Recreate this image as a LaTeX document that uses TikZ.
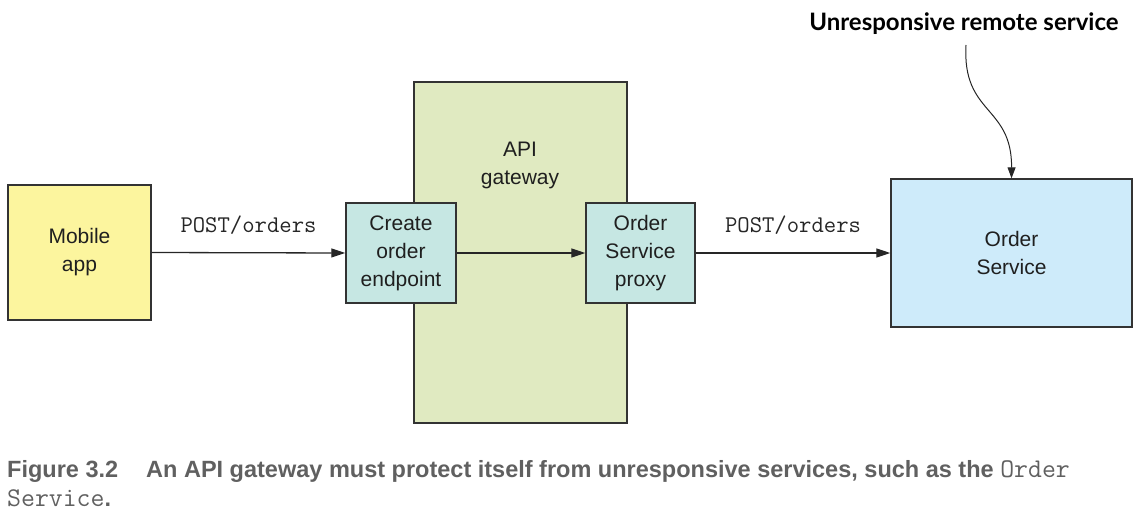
\documentclass[tikz,border=0pt]{standalone}
\usepackage{fontspec}
\setmainfont{Liberation Sans}
\newfontfamily\annf{Lato}
\newfontfamily\capf{Liberation Sans}
\usetikzlibrary{arrows.meta}
\definecolor{mobfill}{HTML}{FCF59E}
\definecolor{gwfill}{HTML}{E0EAC1}
\definecolor{tealfill}{HTML}{C6E7E3}
\definecolor{bluefill}{HTML}{CEEBFA}
\definecolor{edge}{HTML}{333333}
\definecolor{capgray}{HTML}{606060}
\tikzset{
  box/.style={draw=edge, line width=1.4pt, align=center, text=black!88, inner sep=0pt,
    font=\fontsize{21}{28}\selectfont},
  conn/.style={draw=black!85, line width=1.3pt, -{Triangle[length=14pt,width=9pt]}},
  lbl/.style={font=\ttfamily\fontsize{24}{26}\selectfont, text=black!85},
}
\begin{document}
\begin{tikzpicture}[x=1pt,y=-1pt]
\useasboundingbox (0,0) rectangle (1145,519);
\node[box, fill=mobfill, minimum width=143pt, minimum height=135pt] (mob) at (79.5,252.5) {Mobile\\app};
\node[box, fill=gwfill, minimum width=213pt, minimum height=341pt] (gw) at (520.5,252.5) {};
\node[align=center, text=black!88, font=\fontsize{21}{28}\selectfont] (gwl) at (520,165) {API\\gateway};
\node[box, fill=tealfill, minimum width=110pt, minimum height=100pt] (coe) at (401,253) {Create\\order\\endpoint};
\node[box, fill=tealfill, minimum width=109pt, minimum height=100pt] (osp) at (640.5,253) {Order\\Service\\proxy};
\node[box, fill=bluefill, minimum width=241pt, minimum height=148pt] (os) at (1011.5,253) {Order\\Service};
\draw[conn] (mob.east) -- node[lbl, yshift=28pt] (l1) {POST/orders} (coe.west);
\draw[conn] (coe.east) -- (osp.west);
\draw[conn] (osp.east) -- node[lbl, yshift=28pt] (l2) {POST/orders} (os.west);
\node[font=\annf\bfseries\fontsize{24}{26}\selectfont, text=black] (ann) at (964,24) {Unresponsive remote service};
\coordinate (c0) at (966,45);
\draw[black!85, line width=1pt, -{Triangle[length=11pt,width=8pt]}] (c0) .. controls (962,115) and (1012,105) .. (os.north);
\node[anchor=base west, inner sep=0pt, text=capgray, font=\capf\bfseries\fontsize{23.5}{26}\selectfont] (cap1) at (7,477)
  {Figure 3.2\hspace{28pt}An API gateway must protect itself from unresponsive services, such as the {\ttfamily\mdseries\fontsize{27}{26}\selectfont Order}};
\node[anchor=base west, inner sep=0pt, text=capgray, font=\ttfamily\fontsize{27}{26}\selectfont] (cap2) at (7,506) {Service{\capf\bfseries\fontsize{23.5}{26}\selectfont.}};
\end{tikzpicture}
\end{document}
